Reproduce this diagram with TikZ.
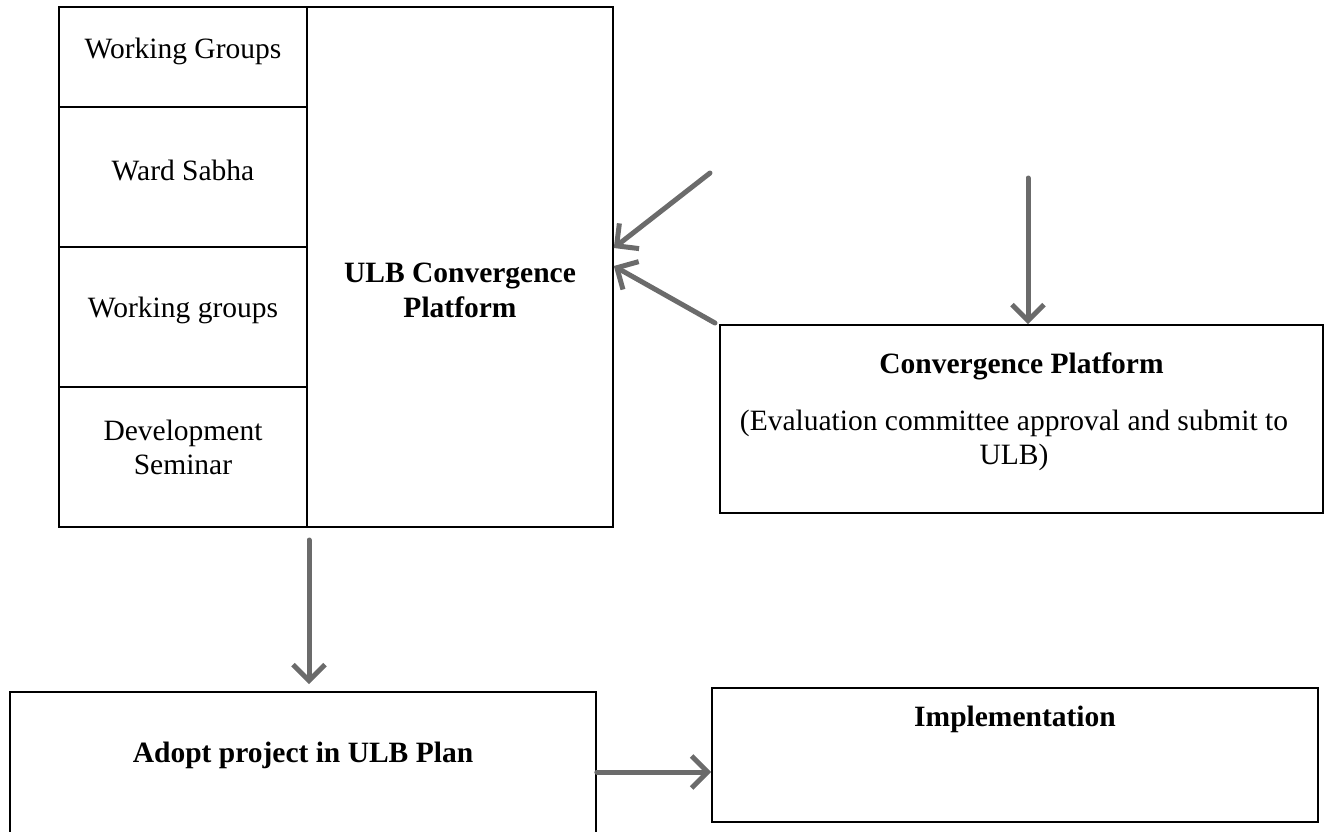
\documentclass[tikz,border=0pt]{standalone}
\usepackage{fontspec}
\setmainfont{Liberation Serif}
\usetikzlibrary{arrows.meta}
\definecolor{arrowgray}{HTML}{6B6B6B}
\begin{document}
\begin{tikzpicture}[x=1pt,y=-1pt,
    box/.style={draw,line width=1.6pt,inner sep=0pt},
    lbl/.style={font=\fontsize{29.5}{34}\selectfont,align=center},
    blbl/.style={font=\fontsize{29.5}{35}\selectfont\bfseries,align=center},
    flow/.style={draw=arrowgray,line width=5pt,line cap=round,
      -{Straight Barb[length=16pt,width=32pt]}}]
  \useasboundingbox (0,0) rectangle (1330,832);
  % left block
  \node[box,minimum width=248pt,minimum height=100pt] (wgA) at (183,57) {};
  \node[box,minimum width=248pt,minimum height=140pt] (ward) at (183,177) {};
  \node[box,minimum width=248pt,minimum height=140pt] (wgB) at (183,317) {};
  \node[box,minimum width=248pt,minimum height=140pt] (sem) at (183,457) {};
  \node[box,minimum width=306pt,minimum height=520pt] (ulb) at (460,267) {};
  \node[lbl] (wgAtxt) at (183,51) {Working Groups};
  \node[lbl] (wardtxt) at (183,170) {Ward Sabha};
  \node[lbl] (wgBtxt) at (183,310) {Working groups};
  \node[lbl] (semtxt) at (183,447) {Development\\Seminar};
  \node[blbl] (ulbtxt) at (460,290) {ULB Convergence\\Platform};
  %% right box
  \node[box,minimum width=603pt,minimum height=188pt] (conv) at (1021.5,419) {};
  \node[blbl] (convtxt) at (1021.5,366) {Convergence Platform};
  \node[lbl] (evaltxt) at (1014,440) {(Evaluation committee approval and submit to\\ULB)};
  %% bottom boxes
  \node[box,minimum width=586pt,minimum height=150pt] (adopt) at (303,767) {};
  \node[blbl] (adopttxt) at (303,755) {Adopt project in ULB Plan};
  \node[box,minimum width=606pt,minimum height=134pt] (impl) at (1015,755) {};
  \node[blbl] (impltxt) at (1015,719) {Implementation};
  %% arrows
  \coordinate (inA) at (710,173);
  \coordinate (inB) at (715,323);
  \coordinate (inC) at (1028,178);
  \coordinate (outA) at (309,540);
  \draw[flow] (inA) -- ([yshift=19pt]ulb.east);
  \draw[flow] (inB) -- ([yshift=1pt]ulb.east);
  \draw[flow] (inC) -- (conv.north -| inC);
  \draw[flow,shorten >=7pt] (outA) -- (adopt.north -| outA);
  \draw[flow] ([yshift=-5pt]adopt.east) -- ([yshift=-5pt]adopt.east -| impl.west);
\end{tikzpicture}
\end{document}
